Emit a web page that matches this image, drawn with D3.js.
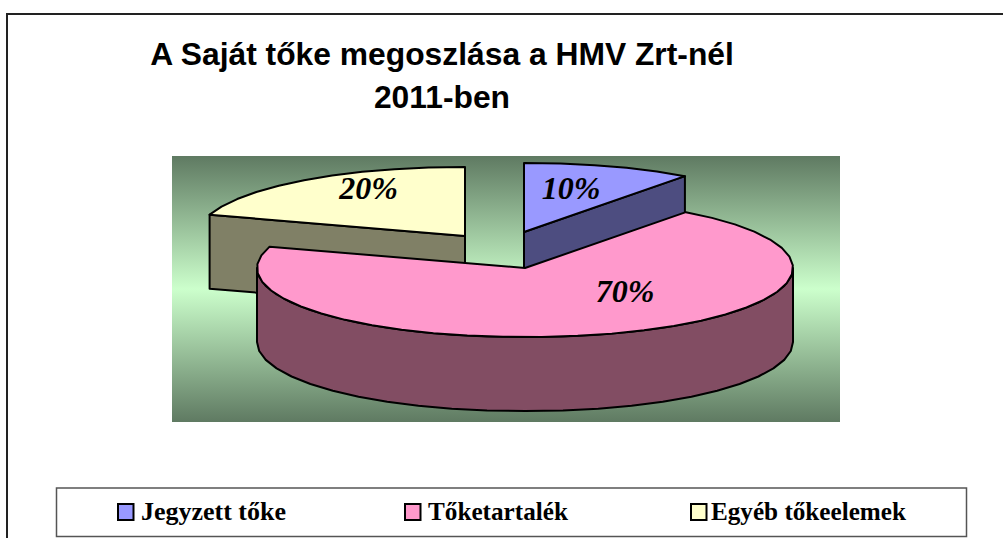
<!DOCTYPE html>
<html lang="hu">
<head>
<meta charset="utf-8">
<style>html,body{margin:0;padding:0;background:#fff;overflow:hidden}svg{display:block}</style>
<script src="https://cdn.jsdelivr.net/npm/d3@7/dist/d3.min.js"></script>
</head>
<body>
<svg id="chart" width="1003" height="538"></svg>
<script>
// Data
const categories = ["Jegyzett tőke", "Tőketartalék", "Egyéb tőkeelemek"];
const shares = [10, 70, 20];
const topColors = ["#9999ff", "#ff99cc", "#ffffcc"];
const sideColors = ["#4d4d80", "#824d63", "#808066"];
const titleLines = ["A Saját tőke megoszlása a HMV Zrt-nél", "2011-ben"];

// Layout
const W = 1003, H = 538;
const plot = {x: 172, y: 156, w: 668, h: 266};
const rx = 268, ry = 69, depth = 74;
const sliceCenters = [[524, 232], [525, 268], [465, 236]];
const labelPos = [[571, 199], [625, 301.5], [368.5, 199]];
const legendBox = {x: 56.5, y: 488, w: 910, h: 48.5};
const legendSwatchX = [118, 405, 691];
const legendTextX = [141, 428, 711];
const legendTextW = [145, 140, 195];

const svg = d3.select("#chart");
svg.append("rect").attr("width", W).attr("height", H).attr("fill", "#fff");

// Chart frame: top and left only are inside the picture
svg.append("path").attr("d", `M7,${H}V14H${W}`).attr("fill", "none")
   .attr("stroke", "#222").attr("stroke-width", 2);

// Plot background gradient
const defs = svg.append("defs");
const grad = defs.append("linearGradient").attr("id", "bg")
  .attr("x1", 0).attr("y1", 0).attr("x2", 0).attr("y2", 1);
grad.selectAll("stop").data([[0, "#5f7a62"], [0.5, "#ccffcc"], [1, "#5f7a62"]])
  .join("stop").attr("offset", d => d[0]).attr("stop-color", d => d[1]);
svg.append("rect").attr("x", plot.x).attr("y", plot.y).attr("width", plot.w).attr("height", plot.h)
   .attr("fill", "url(#bg)");

// Title
svg.append("g").selectAll("text").data(titleLines).join("text")
  .attr("x", 442).attr("y", (d, i) => 65 + i * 43)
  .attr("text-anchor", "middle")
  .attr("font-family", "'Liberation Sans', Arial, sans-serif")
  .attr("font-weight", "bold").attr("font-size", 31.8).attr("fill", "#000")
  .text(d => d);

// Pie layout (clockwise from 12 o'clock, in data order)
const pie = d3.pie().sort(null).value(d => d)(shares);
const TAU = 2 * Math.PI;
const unitX = d3.scaleLinear().domain([-1, 1]).range([-rx, rx]);
const unitY = d3.scaleLinear().domain([-1, 1]).range([-ry, ry]);
const widen = v => Math.sign(v) * Math.pow(Math.abs(v), 0.96);
const rim = (a, c, dz = 0) => [c[0] + unitX(widen(Math.sin(a))), c[1] + unitY(-Math.cos(a)) + dz];
const line = d3.line();
const arcPts = (a0, a1, c, dz = 0) => {
  const n = Math.max(2, Math.ceil((a1 - a0) / (TAU / 48)));
  return d3.range(n + 1).map(i => rim(a0 + (a1 - a0) * i / n, c, dz));
};

const strokeAttrs = sel => sel.attr("stroke", "#000").attr("stroke-width", 2)
  .attr("stroke-linejoin", "round");

// Which radial cut face of each slice looks toward the viewer
const visibleCut = [s => s.endAngle, () => null, s => s.startAngle];

// Draw order: back slices first, largest front slice last
const order = [2, 0, 1];
const g = svg.append("g");
order.forEach(i => {
  const s = pie[i], c = sliceCenters[i];
  const a0 = s.startAngle, a1 = s.endAngle;
  const group = g.append("g");
  const apexLow = [c[0], c[1] + depth];
  const cut = visibleCut[i](s);
  if (cut !== null) {
    group.append("path")
      .attr("d", line([c, rim(cut, c), rim(cut, c, depth), apexLow]) + "Z")
      .attr("fill", sideColors[i]).call(strokeAttrs);
  }
  // Outer wall, front half of the rim
  const w0 = Math.max(a0, Math.PI / 2), w1 = Math.min(a1, 3 * Math.PI / 2);
  if (w1 > w0) {
    const wall = arcPts(w0, w1, c).concat(arcPts(w0, w1, c, depth).reverse());
    group.append("path").attr("d", line(wall) + "Z")
      .attr("fill", sideColors[i]).call(strokeAttrs);
  }
  // Top surface
  group.append("path")
    .attr("d", line([c].concat(arcPts(a0, a1, c))) + "Z")
    .attr("fill", topColors[i]).call(strokeAttrs);
});

// Percent labels
const total = d3.sum(shares);
svg.append("g").selectAll("text").data(shares).join("text")
  .attr("x", (d, i) => labelPos[i][0]).attr("y", (d, i) => labelPos[i][1])
  .attr("text-anchor", "middle")
  .attr("font-family", "'Liberation Serif', 'Times New Roman', serif")
  .attr("font-weight", "bold").attr("font-style", "italic")
  .attr("font-size", 32).attr("fill", "#000")
  .text(d => Math.round(d / total * 100) + "%");

// Legend
svg.append("rect").attr("x", legendBox.x).attr("y", legendBox.y)
  .attr("width", legendBox.w).attr("height", legendBox.h)
  .attr("fill", "#fff").attr("stroke", "#555").attr("stroke-width", 1.5);
const lg = svg.append("g").selectAll("g").data(categories).join("g");
lg.append("rect").attr("x", (d, i) => legendSwatchX[i]).attr("y", 504)
  .attr("width", 15.5).attr("height", 16)
  .attr("fill", (d, i) => topColors[i]).attr("stroke", "#000").attr("stroke-width", 2);
lg.append("text").attr("x", (d, i) => legendTextX[i]).attr("y", 519.5)
  .attr("font-family", "'Liberation Serif', 'Times New Roman', serif")
  .attr("font-weight", "bold").attr("font-size", 24.5).attr("fill", "#000")
  .attr("textLength", (d, i) => legendTextW[i]).attr("lengthAdjust", "spacingAndGlyphs")
  .text(d => d);
</script>
</body>
</html>
